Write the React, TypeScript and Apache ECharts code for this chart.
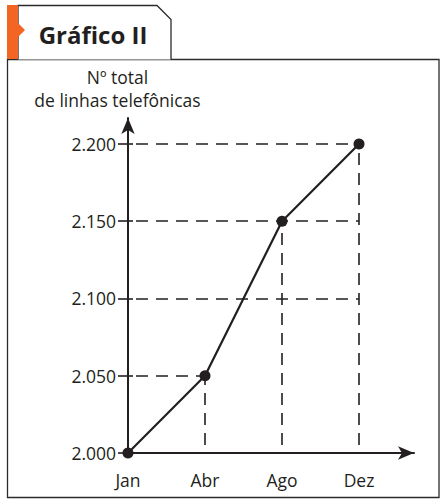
import React, { useEffect, useRef } from "react";
import * as echarts from "echarts";

const months = ["Jan", "Abr", "Ago", "Dez"];
const lineCounts = [2000, 2050, 2150, 2200];
const yTicks = [2000, 2050, 2100, 2150, 2200];
// dashed guides: horizontal ones go from the y axis to a month
const hGuideValues = [2050, 2100, 2150, 2200];
const hGuideEnds = ["Abr", "Dez", "Dez", "Dez"];
// vertical ones go from the point of the month down to the x axis
const vGuideMonths = ["Abr", "Ago", "Dez"];

const INK = "#231f20";
const FONT = "'Open Sans', sans-serif";

const fmtThousands = (v: number) =>
  String(v).replace(/\B(?=(\d{3})+(?!\d))/g, ".");

const App: React.FC = () => {
  const chartRef = useRef<HTMLDivElement>(null);

  useEffect(() => {
    if (!chartRef.current) return undefined;
    const chart = echarts.init(chartRef.current, null, { renderer: "svg" });

    const points = months.map((m, i) => [i, lineCounts[i]]);
    const guides: any[] = [];
    hGuideValues.forEach((v, i) => {
      guides.push([
        { coord: [0, v] },
        { coord: [months.indexOf(hGuideEnds[i]), v] },
      ]);
    });
    vGuideMonths.forEach((m) => {
      const i = months.indexOf(m);
      guides.push([{ coord: [i, yTicks[0]] }, { coord: [i, lineCounts[i]] }]);
    });

    const options: echarts.EChartsOption = {
      animation: false,
      grid: { left: 128, right: 28, top: 118, bottom: 50 },
      xAxis: {
        type: "value",
        min: 0,
        max: 3.714,
        interval: 1,
        axisLine: {
          lineStyle: { color: INK, width: 2 },
          symbol: ["none", "arrow"],
          symbolSize: [10, 16],
        },
        axisTick: { show: false },
        splitLine: { show: false },
        axisLabel: {
          customValues: [0, 1, 2, 3],
          formatter: (v: number) => (Number.isInteger(v) ? months[v] ?? "" : ""),
          margin: 18,
          fontSize: 17.5,
          fontFamily: FONT,
          color: INK,
        },
      } as any,
      yAxis: [
        {
          type: "value",
          position: "left",
          min: 2000,
          max: 2216.8,
          interval: 50,
          name: "Nº total\nde linhas telefônicas",
          nameLocation: "end",
          nameGap: 7,
          nameTextStyle: {
            fontSize: 17.5,
            fontFamily: FONT,
            color: INK,
            lineHeight: 23,
            align: "center",
            verticalAlign: "bottom",
            padding: [0, 21, 0, 0],
          },
          axisLine: {
            show: true,
            lineStyle: { color: INK, width: 2 },
            symbol: ["none", "arrow"],
            symbolSize: [10, 16],
          },
          axisTick: {
            show: true,
            length: 10,
            customValues: yTicks,
            lineStyle: { color: INK, width: 1.6 },
          },
          splitLine: { show: false },
          axisLabel: {
            customValues: yTicks,
            formatter: (v: number) => fmtThousands(v),
            margin: 12,
            fontSize: 17.5,
            fontFamily: FONT,
            color: INK,
          },
        },
        {
          type: "value",
          position: "left",
          min: 2000,
          max: 2216.8,
          interval: 50,
          axisLine: { show: false },
          axisTick: {
            show: true,
            inside: true,
            length: 5,
            customValues: yTicks,
            lineStyle: { color: INK, width: 1.6 },
          },
          axisLabel: { show: false },
          splitLine: { show: false },
        },
      ] as any,
      series: [
        {
          type: "line",
          data: points,
          symbol: "circle",
          symbolSize: 11,
          itemStyle: { color: INK },
          lineStyle: { color: INK, width: 2.2 },
          z: 5,
          markLine: {
            silent: true,
            symbol: ["none", "none"],
            label: { show: false },
            lineStyle: {
              color: INK,
              width: 1.6,
              type: [12, 8],
              dashOffset: 12,
            },
            data: guides,
          },
        },
      ] as any,
      graphic: [
        {
          type: "rect",
          shape: { x: 7.5, y: 59.5, width: 431.5, height: 438 },
          style: { fill: "none", stroke: "#2b2b2b", lineWidth: 1.3 },
        },
        {
          type: "polyline",
          shape: {
            points: [
              [18, 59.5],
              [18, 5.5],
              [157, 5.5],
              [171, 19.5],
              [171, 59.5],
            ],
          },
          style: { fill: "#fff", stroke: "#2b2b2b", lineWidth: 1.3 },
        },
        {
          type: "polygon",
          shape: {
            points: [
              [7, 5],
              [18, 5],
              [18, 23],
              [25, 30],
              [18, 37],
              [18, 59],
              [7, 59],
            ],
          },
          style: { fill: "#f26522" },
        },
        {
          type: "text",
          x: 93,
          y: 34,
          style: {
            text: "Gráfico II",
            fontSize: 24,
            fontWeight: "bold",
            fontFamily: FONT,
            fill: INK,
            align: "center",
            verticalAlign: "middle",
          },
        },
      ],
    };
    chart.setOption(options);

    return () => {
      chart.dispose();
    };
  }, []);

  return (
    <div
      ref={chartRef}
      style={{ position: "absolute", left: 0, top: 0, width: 442, height: 503, background: "#fff" }}
    />
  );
};

export default App;
